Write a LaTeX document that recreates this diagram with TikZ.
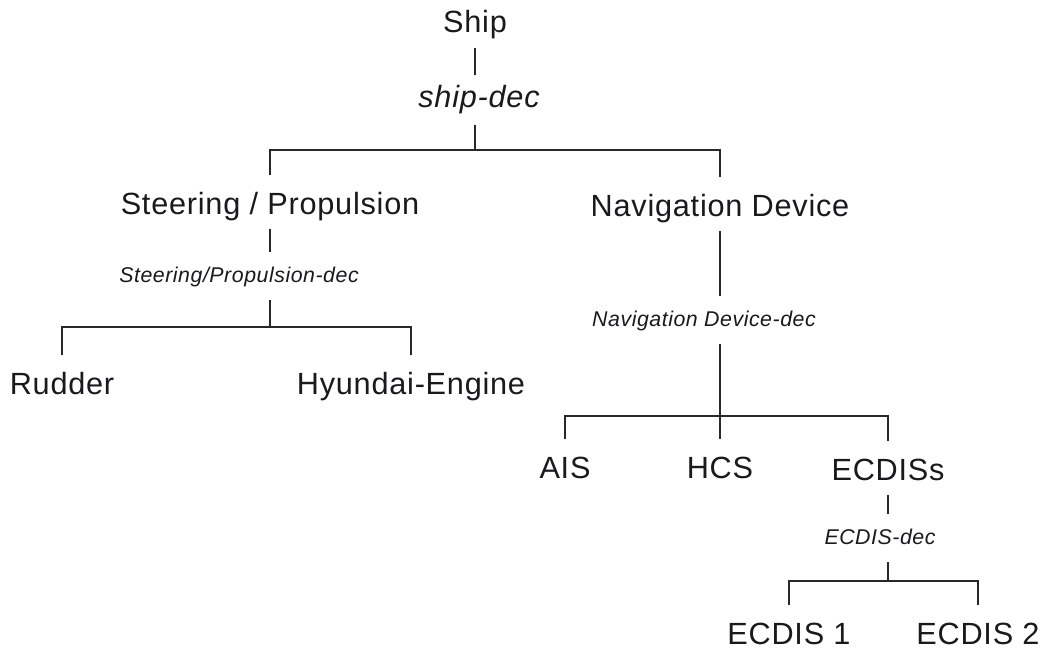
\documentclass[tikz,border=0pt]{standalone}
\usepackage{fontspec}
\setmainfont{Liberation Sans}[LetterSpace=2.5]
\usetikzlibrary{positioning}
\definecolor{inkline}{RGB}{40,40,40}
\definecolor{inktext}{RGB}{25,25,30}
\tikzset{part/.style={anchor=base, font=\fontsize{23}{27}\selectfont, text=inktext, inner xsep=0pt, inner ysep=5pt, text height=24.25pt, text depth=6pt},
         dec/.style={anchor=base, font=\fontsize{16}{19}\selectfont\itshape, text=inktext, inner xsep=0pt, inner ysep=5pt, text height=17pt, text depth=8.5pt},
         topdec/.style={dec, font=\fontsize{23}{27}\selectfont\itshape, text height=19.5pt, text depth=7.75pt},
         link/.style={draw=inkline, line width=0.8pt}}

\begin{document}
\begin{tikzpicture}[x=0.75pt, y=-0.75pt]
  \useasboundingbox (0,0) rectangle (1045,649);
  \node[part] (ship) at (475,33) {Ship};
  \node[topdec] (shipdec) at (479,108) {ship-dec};
  \node[part] (steer) at (270,214) {Steering / Propulsion};
  \node[part] (nav) at (720,216) {Navigation Device};
  \node[dec] (steerdec) at (239,282) {Steering/Propulsion-dec};
  \node[dec] (navdec) at (704,326) {Navigation Device-dec};
  \node[part] (rudder) at (62,394) {Rudder};
  \node[part] (engine) at (411,394) {Hyundai-Engine};
  \node[part] (ais) at (565,478) {AIS};
  \node[part] (hcs) at (720,478) {HCS};
  \node[part] (ecdiss) at (888,480) {ECDISs};
  \node[dec] (ecdisdec) at (880,544) {ECDIS-dec};
  \node[part] (ecdisA) at (789,644) {ECDIS 1};
  \node[part] (ecdisB) at (978,644) {ECDIS 2};
  \coordinate (j0) at (475,150);
  \coordinate (j1) at (270,327);
  \coordinate (j2) at (720,416);
  \coordinate (j3) at (888,581);
  \draw[link] (ship) -- (ship |- shipdec.north);
  \draw[link] (shipdec.south -| j0) -- (j0);
  \draw[link] (j0) -| (steer);
  \draw[link] (j0) -| (nav);
  \draw[link] (steer) -- (steer |- steerdec.north);
  \draw[link] (steer |- steerdec.south) -- (j1);
  \draw[link] (j1) -| (rudder);
  \draw[link] (j1) -| (engine);
  \draw[link] (nav) -- (nav |- navdec.north);
  \draw[link] (nav |- navdec.south) -- (j2);
  \draw[link] (j2) -| (ais);
  \draw[link] (j2) -- (hcs);
  \draw[link] (j2) -| (ecdiss);
  \draw[link] (ecdiss) -- (ecdiss |- ecdisdec.north);
  \draw[link] (ecdiss |- ecdisdec.south) -- (j3);
  \draw[link] (j3) -| (ecdisA);
  \draw[link] (j3) -| (ecdisB);
\end{tikzpicture}
\end{document}
